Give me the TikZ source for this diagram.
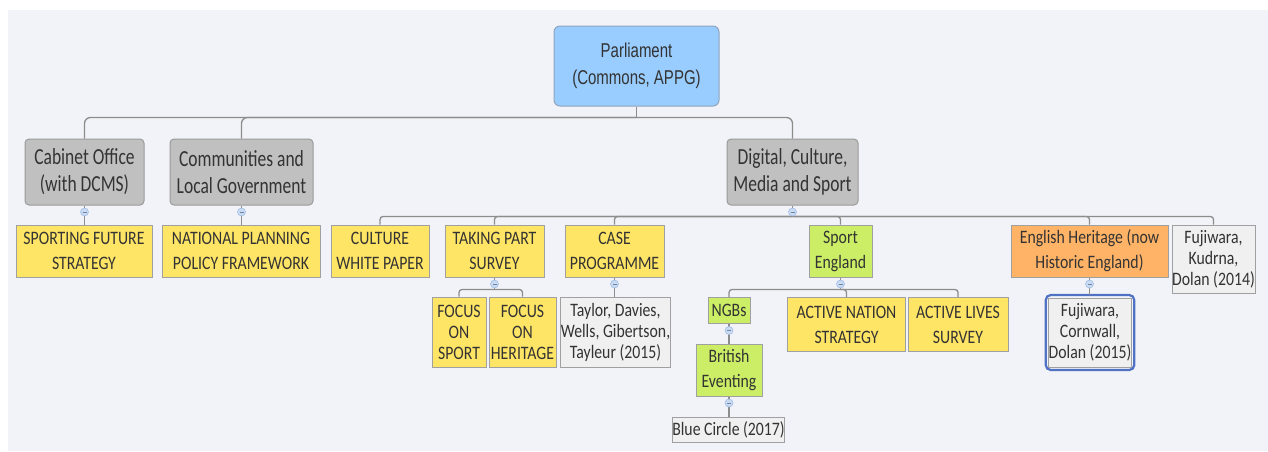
\documentclass[tikz,border=0pt]{standalone}
\usepackage{fontspec}
\setmainfont{Carlito}
\newfontfamily\grayfont{Carlito}[FakeStretch=0.76]
\newfontfamily\childfont{Carlito}[FakeStretch=0.83]
\newfontfamily\parlfont{Liberation Sans}[FakeStretch=0.75]
\usetikzlibrary{calc}
\definecolor{bgc}{HTML}{F2F3F8}
\definecolor{txt}{HTML}{333333}
\definecolor{parlf}{HTML}{99CCFF}
\definecolor{parlb}{HTML}{8FA5BD}
\definecolor{grayf}{HTML}{C0C0C0}
\definecolor{grayb}{HTML}{9A9A9A}
\definecolor{yelf}{HTML}{FFE566}
\definecolor{grnf}{HTML}{CCEE66}
\definecolor{orgf}{HTML}{FFB366}
\definecolor{ltf}{HTML}{F0F0F0}
\definecolor{boxb}{HTML}{A0A0A0}
\definecolor{connc}{HTML}{8C8C8C}
\definecolor{exf}{HTML}{C9DAF3}
\definecolor{exb}{HTML}{A3BDE6}
\definecolor{selb}{HTML}{5072C4}
\tikzset{
  base/.style={rectangle, inner sep=0pt, align=center, text=txt, line width=1pt},
  wh/.style 2 args={minimum width=#1pt, minimum height=#2pt},
  parlbox/.style={base, draw=parlb, fill=parlf, rounded corners=6pt, font=\parlfont\fontsize{20}{27}\selectfont},
  topbox/.style={base, draw=grayb, fill=grayf, rounded corners=4pt, font=\grayfont\fontsize{23}{27}\selectfont},
  child/.style={base, draw=boxb, font=\childfont\fontsize{19}{25}\selectfont},
  three/.style={font=\childfont\fontsize{19}{21}\selectfont},
  yel/.style={child, fill=yelf},
  grn/.style={child, fill=grnf},
  org/.style={child, fill=orgf},
  ref/.style={child, fill=ltf},
  conn/.style={draw=connc, line width=1.3pt, rounded corners=6pt},
  expander/.style={circle, inner sep=0pt, minimum size=8pt, fill=exf, draw=exb, line width=0.6pt,
    path picture={\draw[exb!70!black, line width=0.7pt] ($(path picture bounding box.center)-(2,0)$) -- ++(4,0);}}
}
\begin{document}
\begin{tikzpicture}[x=1pt,y=-1pt]
\fill[white] (0,0) rectangle (1268,451);
\fill[bgc] (8,10) rectangle (1268,451);
\useasboundingbox (0,0) rectangle (1268,451);

% nodes
\node[parlbox, wh={165}{80}] (parl) at (636.5,66) {Parliament\\(Commons, APPG)};
\node[topbox, wh={119}{66}] (cab) at (84.5,172) {Cabinet Office\\(with DCMS)};
\node[topbox, wh={143}{66}] (com) at (241.5,172) {Communities and\\Local Government};
\node[topbox, wh={131}{66}] (dcms) at (792.5,172) {Digital, Culture,\\Media and Sport};

\node[yel, wh={136}{52}] (sfs) at (84,251) {SPORTING FUTURE\\STRATEGY};
\node[yel, wh={158}{52}] (npp) at (241,251) {NATIONAL PLANNING\\POLICY FRAMEWORK};
\node[yel, wh={98}{52}] (cwp) at (380,251) {CULTURE\\WHITE PAPER};
\node[yel, wh={99}{52}] (tp) at (494.5,251) {TAKING PART\\SURVEY};
\node[yel, wh={99}{52}] (case) at (614.5,251) {CASE\\PROGRAMME};
\node[grn, wh={63}{52}] (se) at (840.5,251) {Sport\\England};
\node[org, wh={157}{52}] (eh) at (1089.5,251) {English Heritage (now\\Historic England)};
\node[ref, three, wh={83}{68}] (fk) at (1213.5,259) {Fujiwara,\\Kudrna,\\Dolan (2014)};

\node[yel, three, wh={54}{70}] (fs) at (459,332) {FOCUS\\ON\\SPORT};
\node[yel, three, wh={67}{70}] (fh) at (522.5,332) {FOCUS\\ON\\HERITAGE};
\node[ref, three, wh={109}{70}] (tay) at (615.5,332) {Taylor, Davies,\\Wells, Gibertson,\\Tayleur (2015)};
\node[grn, wh={42}{26}] (ngb) at (729,310.5) {NGBs};
\node[yel, wh={118}{54}] (an) at (846.5,324.5) {ACTIVE NATION\\STRATEGY};
\node[yel, wh={100}{54}] (al) at (958,324.5) {ACTIVE LIVES\\SURVEY};
\node[ref, three, wh={82}{69}] (fc) at (1090,332.5) {Fujiwara,\\Cornwall,\\Dolan (2015)};
\draw[selb, line width=2.2pt, rounded corners=5pt] ($(fc.north west)+(-2.5,-2.5)$) rectangle ($(fc.south east)+(2.5,2.5)$);
\node[grn, wh={66}{52}] (be) at (729,370) {British\\Eventing};
\node[ref, wh={111}{25}] (bc) at (728.5,430) {Blue Circle (2017)};

% connectors: Parliament
\coordinate (pj) at ($(parl.south)+(0,11)$);
\draw[conn] (parl.south) -- (pj);
\draw[conn] (cab.north) |- (pj);
\draw[conn] (com.north) |- (pj);
\draw[conn] (dcms.north) |- (pj);

\draw[conn] (cab.south) -- (cab.south|-sfs.north);
\draw[conn] (com.south) -- (com.south|-npp.north);

% DCMS
\coordinate (dj) at ($(dcms.south)+(0,11)$);
\draw[conn] (dcms.south) -- (dj);
\foreach \c in {cwp,tp,case,se,eh,fk} {\draw[conn, rounded corners=3pt] (\c.north) |- (dj);}

% Taking part
\coordinate (tj) at ($(tp.south)+(0,12)$);
\draw[conn] (tp.south) -- (tj);
\foreach \c in {fs,fh} {\draw[conn, rounded corners=3pt] (\c.north) |- (tj);}
\draw[conn] (case.south) -- (case.south|-tay.north);

% Sport England
\coordinate (sj) at ($(se.south)+(0,12)$);
\draw[conn] (se.south) -- (sj);
\foreach \c in {ngb,an,al} {\draw[conn, rounded corners=3pt] (\c.north) |- (sj);}
\draw[conn] (ngb.south) -- (ngb.south|-be.north);
\draw[conn] (be.south) -- (be.south|-bc.north);

% English Heritage
\draw[conn] (eh.south) -- ($(eh.south|-fc.north)+(0,-3)$);

% expanders
\foreach \p in {cab,com,dcms,tp,case,se,ngb,be,eh} {\node[expander] at ($(\p.south)+(0,6.5)$) {};}
\end{tikzpicture}
\end{document}
